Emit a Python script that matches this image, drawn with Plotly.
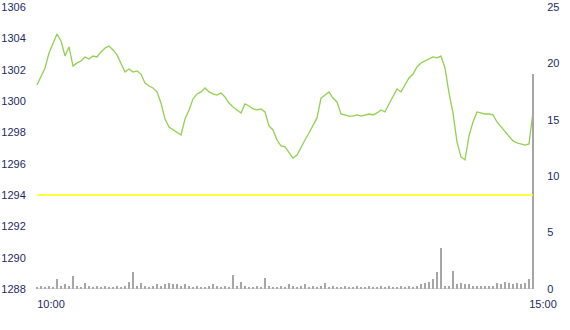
import plotly.graph_objects as go

# Intraday price (left axis) sampled evenly from 10:00 to 15:00
price = [
    1301.02, 1301.53, 1302.11, 1303.06, 1303.70, 1304.28, 1303.83, 1302.87, 1303.45, 1302.23,
    1302.43, 1302.55, 1302.81, 1302.68, 1302.87, 1302.81, 1303.13, 1303.38, 1303.51, 1303.26,
    1302.94, 1302.36, 1301.85, 1302.04, 1301.85, 1301.92, 1301.72, 1301.15, 1300.96, 1300.83,
    1300.58, 1299.87, 1298.85, 1298.34, 1298.15, 1298.02, 1297.83, 1298.85, 1299.43, 1300.13,
    1300.45, 1300.58, 1300.83, 1300.58, 1300.45, 1300.38, 1300.51, 1300.26, 1299.87, 1299.62,
    1299.43, 1299.24, 1299.81, 1299.68, 1299.49, 1299.43, 1299.49, 1299.30, 1298.41, 1298.15,
    1297.51, 1297.13, 1297.07, 1296.68, 1296.36, 1296.55, 1297.07, 1297.51, 1297.96, 1298.41,
    1298.92, 1300.19, 1300.38, 1300.58, 1300.19, 1299.94, 1299.17, 1299.11, 1299.04, 1299.04,
    1299.11, 1299.04, 1299.11, 1299.17, 1299.11, 1299.24, 1299.43, 1299.30, 1299.81, 1300.26,
    1300.77, 1300.58, 1301.02, 1301.47, 1301.72, 1302.17, 1302.43, 1302.55, 1302.68, 1302.81,
    1302.75, 1302.87, 1302.11, 1300.51, 1299.24, 1297.38, 1296.43, 1296.24, 1297.77, 1298.66,
    1299.30, 1299.24, 1299.17, 1299.17, 1299.11, 1298.66, 1298.34, 1298.02, 1297.70, 1297.45,
    1297.32, 1297.26, 1297.19, 1297.26, 1299.30,
]

# Volume (right axis)
volume = [
    0.2, 0.3, 0.2, 0.3, 0.2, 0.9, 0.3, 0.4, 0.3, 1.15,
    0.3, 0.2, 0.5, 0.3, 0.2, 0.3, 0.2, 0.3, 0.2, 0.2,
    0.3, 0.2, 0.3, 0.6, 1.5, 0.3, 0.5, 0.3, 0.2, 0.3,
    0.4, 0.3, 0.4, 0.5, 0.4, 0.4, 0.3, 0.4, 0.3, 0.2,
    0.3, 0.2, 0.2, 0.3, 0.4, 0.3, 0.2, 0.3, 0.2, 1.2,
    0.3, 0.6, 0.3, 0.2, 0.2, 0.3, 0.2, 1.0, 0.3, 0.2,
    0.2, 0.3, 0.2, 0.4, 0.3, 0.2, 0.3, 0.4, 0.2, 0.3,
    0.2, 0.3, 0.5, 0.2, 0.3, 0.2, 0.2, 0.3, 0.2, 0.2,
    0.3, 0.2, 0.2, 0.3, 0.2, 0.2, 0.3, 0.2, 0.3, 0.2,
    0.2, 0.3, 0.2, 0.3, 0.2, 0.3, 0.4, 0.5, 0.6, 0.9,
    1.5, 3.6, 0.3, 0.3, 1.6, 0.4, 0.5, 0.4, 0.4, 0.3,
    0.3, 0.3, 0.3, 0.3, 0.3, 0.5, 0.4, 0.6, 0.5, 0.4,
    0.5, 0.4, 0.5, 0.9, 19.1,
]

tick_labels = ["10:00", "15:00"]
tick_positions = [0, 123]
ref_level = 1294

x = list(range(len(price)))

font_color = "#1c2b5e"
font = dict(family="Liberation Sans, Arial, sans-serif", size=11, color=font_color)
clear = "rgba(0,0,0,0)"

fig = go.Figure()
fig.add_trace(go.Bar(
    x=x, y=volume, yaxis="y2", marker=dict(color="#a6a6a6", line=dict(width=0)),
    width=0.35, hoverinfo="skip",
))
fig.add_trace(go.Scatter(
    x=x, y=price, mode="lines", line=dict(color="#92d050", width=1.3),
))

fig.update_layout(
    width=570, height=330,
    margin=dict(l=34, r=36, t=7, b=41),
    paper_bgcolor="white", plot_bgcolor="white",
    showlegend=False,
    font=font,
    bargap=0,
    xaxis=dict(
        range=[-0.75, len(price) - 0.75], showgrid=False, zeroline=False,
        tickvals=tick_positions, ticktext=tick_labels,
        ticks="outside", ticklen=5, tickcolor=clear,
        ticklabelshift=14,
        showline=False, automargin=False,
    ),
    yaxis=dict(
        range=[1288, 1306], dtick=2, showgrid=False, zeroline=False,
        ticks="outside", ticklen=5, tickcolor=clear, side="left", automargin=False,
    ),
    yaxis2=dict(
        range=[0, 25], dtick=5, showgrid=False, zeroline=False,
        overlaying="y", side="right", ticks="outside", ticklen=10, tickcolor=clear,
        automargin=False,
    ),
)
fig.add_shape(type="line", xref="x", yref="y2", x0=0, x1=len(price) - 1,
              y0=0, y1=0, line=dict(color="#b0b0b0", width=1))
fig.add_shape(type="line", xref="x", yref="y", x0=0, x1=len(price) - 1,
              y0=ref_level, y1=ref_level, line=dict(color="#ffff00", width=1.5))

fig.write_html("out.html")
